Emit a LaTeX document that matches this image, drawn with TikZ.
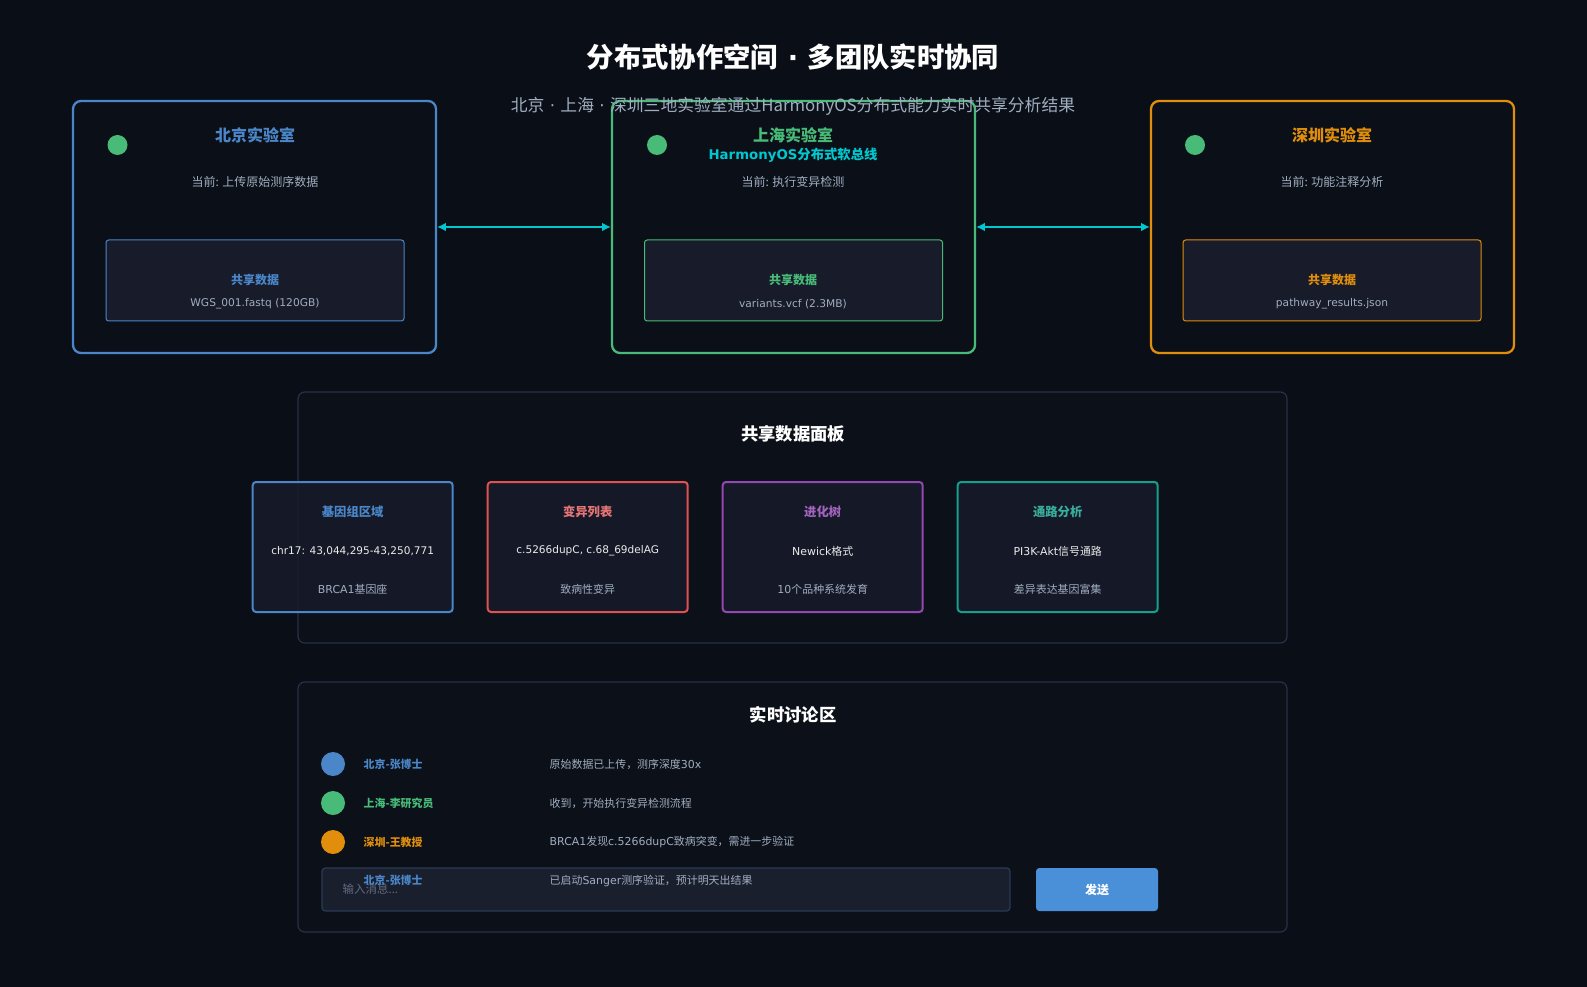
\documentclass[tikz,border=0pt]{standalone}
\usepackage{fontspec}
\setmainfont{Noto Sans CJK SC}
\newfontfamily\latinfont{DejaVu Sans}
\usetikzlibrary{arrows.meta}

\definecolor{bgdark}{HTML}{0A0E17}
\definecolor{labbg}{HTML}{0B0F18}
\definecolor{panelbg}{HTML}{0C1018}
\definecolor{panelline}{HTML}{263148}
\definecolor{boxbg}{HTML}{171B2A}
\definecolor{bjblue}{HTML}{4A86C8}
\definecolor{shgreen}{HTML}{48BB78}
\definecolor{szorange}{HTML}{E08E0B}
\definecolor{linkcyan}{HTML}{00C8CF}
\definecolor{textgray}{HTML}{A0AEC0}
\definecolor{varred}{HTML}{E05252}
\definecolor{treepurple}{HTML}{9248B0}
\definecolor{pathteal}{HTML}{16A08C}
\definecolor{sendblue}{HTML}{4A90D9}
\definecolor{inputbg}{HTML}{1A1F2E}
\definecolor{inputline}{HTML}{2A3A55}
\definecolor{hintgray}{HTML}{5F6B7D}

\begin{document}
\begin{tikzpicture}[x=0.75pt, y=-0.75pt, >={Latex[length=6.5pt,width=6.5pt]},
  lab/.style={draw=#1, line width=1.7pt, rounded corners=6pt, fill=labbg,
    minimum width=272.25pt, minimum height=189pt, inner sep=0pt},
  sharebox/.style={draw=#1, line width=0.75pt, rounded corners=2pt, fill=boxbg,
    minimum width=223.5pt, minimum height=60.75pt, inner sep=0pt},
  datacard/.style={draw=#1, line width=1.5pt, rounded corners=2.5pt, fill=boxbg,
    fill opacity=0.85, minimum width=150pt, minimum height=97.5pt, inner sep=0pt},
  panel/.style={draw=panelline, line width=0.9pt, rounded corners=5pt, fill=panelbg},
  link/.style={<->, draw=linkcyan, line width=1.5pt},
  labtitle/.style={text=#1, font=\fontsize{12pt}{14pt}\selectfont\bfseries},
  status/.style={text=textgray, font=\fontsize{9pt}{11pt}\selectfont},
  sharetitle/.style={text=#1, font=\fontsize{9pt}{11pt}\selectfont\bfseries},
  filename/.style={text=textgray, font=\fontsize{8pt}{10pt}\selectfont\latinfont},
  cardtitle/.style={text=#1, font=\fontsize{9.25pt}{11pt}\selectfont\bfseries},
  cardmain/.style={text=white!92!black, font=\fontsize{8.2pt}{10pt}\selectfont},
  cardcode/.style={text=white!92!black, font=\fontsize{7.9pt}{10pt}\selectfont\latinfont},
  cardsub/.style={text=textgray, font=\fontsize{8.2pt}{10pt}\selectfont},
  who/.style={anchor=west, text=#1, font=\fontsize{8.2pt}{10pt}\selectfont\bfseries},
  msg/.style={anchor=west, text=textgray, font=\fontsize{8.2pt}{10pt}\selectfont}]

% Background
\fill[bgdark] (0,0) rectangle (1587,987);
\useasboundingbox (0,0) rectangle (1587,987);

% Heading
\node[text=white, font=\fontsize{20.5pt}{24pt}\selectfont\bfseries] (title) at (793,57) {分布式协作空间{\latinfont\ ·\ }多团队实时协同};

% Lab cards
\node[lab=bjblue] (bj) at (254.5,227) {};
\node[lab=shgreen] (sh) at (793.5,227) {};
\node[lab=szorange] (sz) at (1332.5,227) {};

% Links between labs
\draw[link] (bj.east) -- (sh.west);
\draw[link] (sh.east) -- (sz.west);

% Subtitle (sits over the Shanghai card)
\node[text=textgray, font=\fontsize{12.6pt}{14pt}\selectfont] (subtitle) at (793,106) {北京{\latinfont\ ·\ }上海{\latinfont\ ·\ }深圳三地实验室通过HarmonyOS分布式能力实时共享分析结果};

% Beijing
\fill[shgreen] (117.5,145) circle (10);
\node[labtitle=bjblue] (bjname) at (255,135) {北京实验室};
\node[status] (bjnow) at (255,182) {当前: 上传原始测序数据};
\node[sharebox=bjblue] (bjdata) at (255,280.5) {};
\node[sharetitle=bjblue] (bjdatatitle) at (255,280) {共享数据};
\node[filename] (bjfile) at (255,304) {WGS\_001.fastq (120GB)};

% Shanghai
\fill[shgreen] (657,145) circle (10);
\node[labtitle=shgreen] (shname) at (793,135) {上海实验室};
\node[text=linkcyan, font=\fontsize{10pt}{12pt}\selectfont\bfseries] (bus) at (793,155) {{\latinfont HarmonyOS}分布式软总线};
\node[status] (shnow) at (793,182) {当前: 执行变异检测};
\node[sharebox=shgreen] (shdata) at (793.5,280.5) {};
\node[sharetitle=shgreen] (shdatatitle) at (793,280) {共享数据};
\node[filename] (shfile) at (793,304) {variants.vcf (2.3MB)};

% Shenzhen
\fill[shgreen] (1195,145) circle (10);
\node[labtitle=szorange] (szname) at (1332,135) {深圳实验室};
\node[status] (sznow) at (1332,182) {当前: 功能注释分析};
\node[sharebox=szorange] (szdata) at (1332,280.5) {};
\node[sharetitle=szorange] (szdatatitle) at (1332,280) {共享数据};
\node[filename] (szfile) at (1332,304) {pathway\_results.json};

% Shared data panel
\draw[panel] (298,392) rectangle (1287,643);
\node[text=white, font=\fontsize{13pt}{15pt}\selectfont\bfseries] (paneltitle) at (793,434) {共享数据面板};

\node[datacard=bjblue] (genome) at (352.7,547) {};
\node[cardtitle=bjblue] at (352.7,512) {基因组区域};
\node[cardcode] at (352.7,551) {chr17: 43,044,295-43,250,771};
\node[cardsub] at (352.7,589) {{\latinfont BRCA1}基因座};

\node[datacard=varred] (variants) at (587.7,547) {};
\node[cardtitle=varred!80!white] at (587.7,512) {变异列表};
\node[cardcode] at (587.7,551) {c.5266dupC, c.68\_69delAG};
\node[cardsub] at (587.7,589) {致病性变异};

\node[datacard=treepurple] (tree) at (822.7,547) {};
\node[cardtitle=treepurple!85!white] at (822.7,512) {进化树};
\node[cardmain] at (822.7,551) {{\latinfont Newick}格式};
\node[cardsub] at (822.7,589) {{\latinfont 10}个品种系统发育};

\node[datacard=pathteal] (pathway) at (1057.7,547) {};
\node[cardtitle=pathteal!85!white] at (1057.7,512) {通路分析};
\node[cardmain] at (1057.7,551) {{\latinfont PI3K-Akt}信号通路};
\node[cardsub] at (1057.7,589) {差异表达基因富集};

% Discussion panel
\draw[panel] (298,682) rectangle (1287,932);
\node[text=white, font=\fontsize{13pt}{15pt}\selectfont\bfseries] (chattitle) at (793,715) {实时讨论区};

\fill[bjblue] (333,764) circle (12);
\node[who=bjblue] (who1) at (359,764) {北京-张博士};
\node[msg] (msg1) at (545,764) {原始数据已上传，测序深度{\latinfont 30x}};

\fill[shgreen] (333,803) circle (12);
\node[who=shgreen] (who2) at (359,803) {上海-李研究员};
\node[msg] (msg2) at (545,803) {收到，开始执行变异检测流程};

\fill[szorange] (333,842) circle (12);
\node[who=szorange] (who3) at (359,842) {深圳-王教授};
\node[msg] (msg3) at (545,842) {{\latinfont BRCA1}发现{\latinfont c.5266dupC}致病突变，需进一步验证};

% Input row
\draw[draw=inputline, fill=inputbg, line width=0.9pt, rounded corners=2.5pt] (322,868) rectangle (1010,911);
\node[anchor=west, text=hintgray, font=\fontsize{8.6pt}{10pt}\selectfont] (hint) at (338,889) {输入消息...};
\node[who=bjblue] (who4) at (359,880.5) {北京-张博士};
\node[msg] (msg4) at (545,880.5) {已启动{\latinfont Sanger}测序验证，预计明天出结果};
\node[fill=sendblue, rounded corners=2.5pt, minimum width=91.5pt, minimum height=32.25pt, inner sep=0pt,
  text=white, font=\fontsize{9pt}{11pt}\selectfont\bfseries] (send) at (1097,889.5) {发送};

\end{tikzpicture}
\end{document}
